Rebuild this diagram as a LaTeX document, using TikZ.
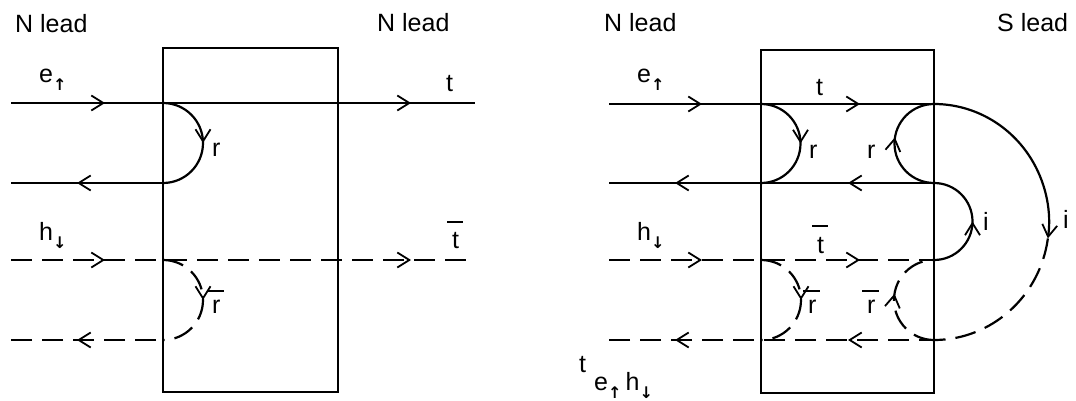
\documentclass[tikz,border=0pt]{standalone}
\usepackage{fontspec}
\setmainfont{Liberation Sans}
\newfontfamily\arrfont{DejaVu Sans}
\usetikzlibrary{arrows.meta,decorations.markings}
\newcommand{\myup}{\raisebox{-8pt}{\arrfont\fontsize{16}{16}\selectfont\bfseries ↑}}
\newcommand{\mydn}{\raisebox{-8pt}{\arrfont\fontsize{16}{16}\selectfont\bfseries ↓}}
\newcommand{\mybar}[3]{\makebox[0pt][l]{\hspace{-5pt}\rule[#1]{#2}{2pt}}#3}
\begin{document}
\begin{tikzpicture}[x=1pt,y=-1pt,
  ln/.style={line width=2.2pt},
  dsh/.style={ln, dash pattern=on 21pt off 10pt},
  tipA/.style={postaction={decorate, solid, decoration={markings, mark=at position #1 with {\arrow{Straight Barb[length=12pt,width=15pt,line width=1.8pt]}}}}},
  endtip/.style={-{Straight Barb[length=12pt,width=15pt,line width=1.8pt]}},
  lab/.style={inner sep=0pt, anchor=base west, font=\fontsize{25}{30}\selectfont},
  boxst/.style={draw, line width=2.2pt, inner sep=0pt}]
\path[use as bounding box] (0,0) rectangle (1076,401);

% ---------- left panel ----------
\node[boxst, minimum width=175pt, minimum height=344pt] (boxL) at (250.5,220) {};
\coordinate (a1) at (11,103);  \coordinate (a2) at (475,103);
\coordinate (ja) at (163,103); \coordinate (jb) at (163,183);
\coordinate (b1) at (11,183);
\coordinate (h1) at (11,260);  \coordinate (h2) at (475,260);
\coordinate (jc) at (163,260); \coordinate (jd) at (163,340);
\coordinate (d1) at (11,340);

\draw[ln, tipA=94pt, tipA=400pt] (a1) -- (a2);
\draw[ln, tipA=86pt] (jb) -- (b1);
\draw[ln, tipA=0.5] (ja) arc[start angle=-90, end angle=90, radius=40];
\draw[dsh, tipA=94pt, tipA=400pt] (h1) -- (h2);
\draw[dsh, dash phase=24pt, tipA=86pt] (jd) -- (d1);
\draw[dsh, tipA=0.5] (jc) arc[start angle=-90, end angle=90, radius=40];

\node[lab] (nlA) at (15,33) {N lead};
\node[lab] (nlB) at (377,32) {N lead};
\node[lab] (eA) at (39,83) {e\myup};
\node[lab] (tA) at (446,92) {t};
\node[lab] (rA) at (212,157) {r};
\node[lab] (hA) at (39,240) {h\mydn};
\node[lab] (tbA) at (452,248) {\mybar{25pt}{16pt}{t}};
\node[lab] (rbA) at (212,313) {\mybar{21pt}{17pt}{r}};

% ---------- right panel ----------
\node[boxst, minimum width=173pt, minimum height=343pt] (boxR) at (847.5,221.5) {};
\coordinate (ra1) at (609,104); \coordinate (rj1) at (761,104); \coordinate (rR1) at (934,104);
\coordinate (rR2) at (934,183); \coordinate (rj2) at (761,183); \coordinate (rb1) at (609,183);
\coordinate (rh1) at (609,260); \coordinate (rj3) at (761,260); \coordinate (rR3) at (934,260);
\coordinate (rR4) at (934,340); \coordinate (rj4) at (761,340); \coordinate (rd1) at (609,340);

\draw[ln, tipA=93pt, tipA=251pt] (ra1) -- (rR1);
\draw[ln, tipA=86pt, tipA=259pt] (rR2) -- (rb1);
\draw[dsh, tipA=93pt, tipA=251pt] (rh1) -- (rR3);
\draw[dsh, dash phase=6pt, tipA=86pt, tipA=259pt] (rR4) -- (rd1);

\draw[ln, tipA=0.5] (rj1) arc[start angle=-90, end angle=90, radius=39.5];
\draw[dsh, tipA=0.5] (rj3) arc[start angle=-90, end angle=90, radius=40];
\draw[ln, tipA=0.55] (rR2) arc[start angle=90, end angle=270, radius=39.5];
\draw[dsh, tipA=0.55] (rR4) arc[start angle=90, end angle=270, radius=40];
\draw[ln, tipA=0.5] (rR3) arc[start angle=90, end angle=-90, radius=38.5];
\draw[ln, endtip] (rR1) arc[start angle=-90, end angle=8, x radius=115, y radius=118] coordinate (bigm);
\draw[dsh] (bigm) arc[start angle=8, end angle=90, x radius=115, y radius=118];

\node[lab] (nlC) at (604,32) {N lead};
\node[lab] (slC) at (997,32) {S lead};
\node[lab] (eC) at (637,83) {e\myup};
\node[lab] (tC) at (816,96) {t};
\node[lab] (rC1) at (809,158) {r};
\node[lab] (rC2) at (867,158) {r};
\node[lab] (iC1) at (983,230) {i};
\node[lab] (iC2) at (1063,228) {i};
\node[lab] (hC) at (637,240) {h\mydn};
\node[lab] (tbC) at (817,253) {\mybar{26pt}{16pt}{t}};
\node[lab] (rbC1) at (808,313) {\mybar{21pt}{17pt}{r}};
\node[lab] (rbC2) at (867,313) {\mybar{21pt}{17pt}{r}};
\node[lab] (tD) at (579,372) {t};
\node[lab] (ehD) at (594,390) {e\myup\,h\mydn};
\end{tikzpicture}
\end{document}
